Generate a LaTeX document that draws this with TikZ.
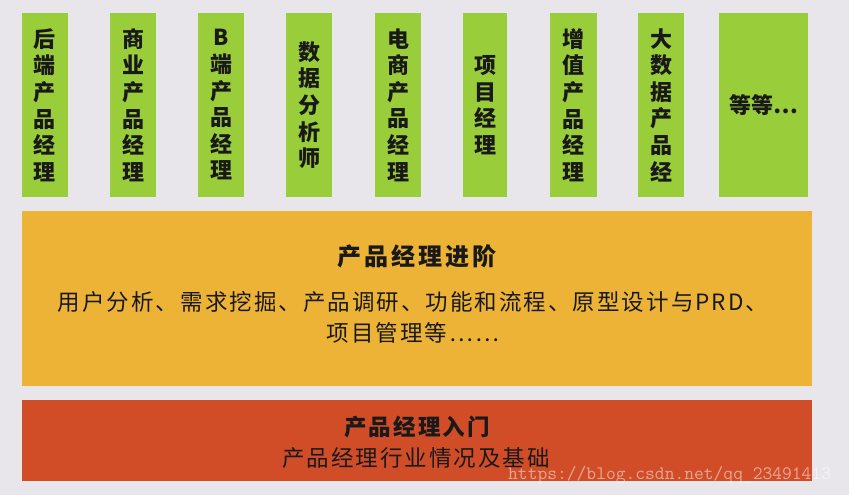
\documentclass[tikz,border=0pt]{standalone}
\usepackage{fontspec}
\newfontfamily\cjk{Noto Sans CJK SC}
\definecolor{bgc}{RGB}{232,230,235}
\definecolor{greenc}{RGB}{154,205,58}
\definecolor{orangec}{RGB}{236,179,54}
\definecolor{redc}{RGB}{208,77,40}
\definecolor{txt}{RGB}{25,25,25}
\tikzset{
  gbox/.style={fill=greenc, draw=none, minimum height=184pt, inner sep=0pt, align=center,
    text=txt, font=\cjk\bfseries\fontsize{22}{26.6}\selectfont},
  band/.style={draw=none, inner sep=0pt, minimum width=790pt},
  title/.style={text=txt, inner sep=0pt, font=\cjk\bfseries\fontsize{24}{26}\selectfont\addfontfeature{LetterSpace=12}},
  body/.style={text=txt, inner sep=0pt, align=center, font=\cjk\fontsize{22.5}{31}\selectfont\addfontfeature{LetterSpace=9}},
  wm/.style={text=white, opacity=0.5, inner sep=0pt, font=\ttfamily\fontsize{19}{20}\selectfont}
}
\begin{document}
\begin{tikzpicture}[x=1pt,y=1pt]
\useasboundingbox (0,0) rectangle (849,-495);
\fill[bgc] (0,0) rectangle (849,-495);
% green boxes
\node[gbox, minimum width=46pt] (g1) at (45,-105) {后\\端\\产\\品\\经\\理};
\node[gbox, minimum width=46pt] (g2) at (133,-105) {商\\业\\产\\品\\经\\理};
\node[gbox, minimum width=46pt] (g3) at (221,-105) {B\\端\\产\\品\\经\\理};
\node[gbox, minimum width=46pt] (g4) at (309,-105) {数\\据\\分\\析\\师};
\node[gbox, minimum width=46pt] (g5) at (398,-105) {电\\商\\产\\品\\经\\理};
\node[gbox, minimum width=44pt] (g6) at (485,-105) {项\\目\\经\\理};
\node[gbox, minimum width=47pt] (g7) at (573.5,-105) {增\\值\\产\\品\\经\\理};
\node[gbox, minimum width=46pt] (g8) at (661,-105) {大\\数\\据\\产\\品\\经};
\node[gbox, minimum width=89pt] (g9) at (763.5,-105) {等等…};
% orange band
\node[band, fill=orangec, minimum height=175pt] (adv) at (417,-298.5) {};
\node[title] (advt) at (417,-256) {产品经理进阶};
\node[body] (advb) at (413,-317) {用户分析、需求挖掘、产品调研、功能和流程、原型设计与PRD、\\项目管理等……};
% red band
\node[band, fill=redc, minimum height=81pt] (base) at (417,-440.5) {};
\node[title, font=\cjk\bfseries\fontsize{22.5}{26}\selectfont\addfontfeature{LetterSpace=9}] (baset) at (417,-427) {产品经理入门};
\node[body] (baseb) at (416,-458) {产品经理行业情况及基础};
% watermark
\node[wm, anchor=west] (wmk) at (508,-475) {https://blog.csdn.net/qq\_23491413};
\end{tikzpicture}
\end{document}
